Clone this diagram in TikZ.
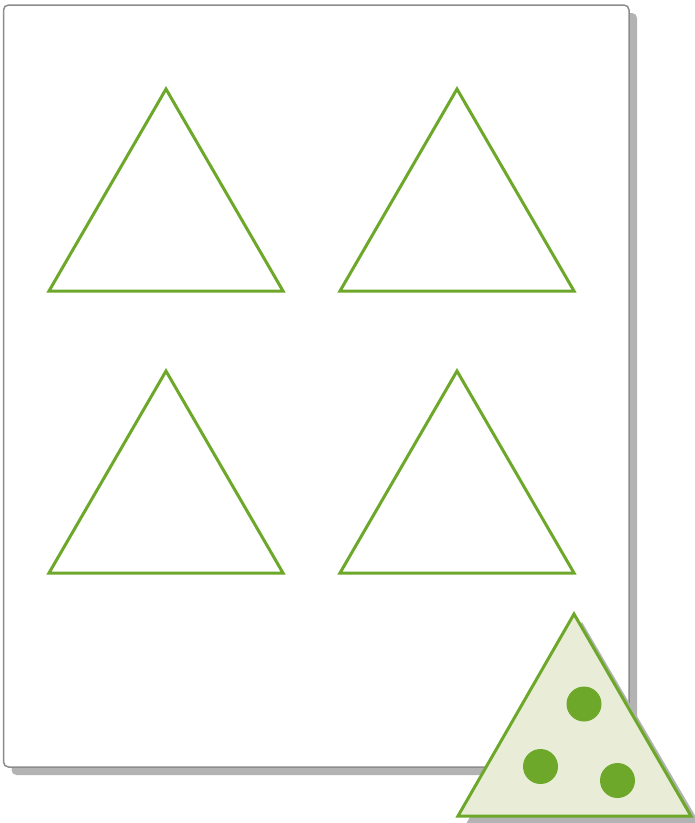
\documentclass[tikz,border=0pt]{standalone}
\begin{document}
\begin{tikzpicture}[x=1pt,y=-1pt,
  pageshadow/.style={fill=shadowgray,draw=none,rounded corners=5pt},
  pagebox/.style={fill=white,draw=pagegray,line width=1.5pt,rounded corners=5pt},
  tri/.style={draw=leafgreen,line width=3pt,line join=miter},
  dot/.style={fill=leafgreen,draw=none}]
\definecolor{leafgreen}{HTML}{6DA82B}
\definecolor{palegreen}{HTML}{E9EDD8}
\definecolor{pagegray}{HTML}{8C8C8C}
\definecolor{shadowgray}{HTML}{B3B3B3}
\useasboundingbox (0,0) rectangle (695,823);
\clip (0,0) rectangle (695,823);
% page
\fill[pageshadow] (11.5,13) rectangle (637,775);
\draw[pagebox] (3.5,5) rectangle (629,767);
% four outline triangles
\draw[tri] (166,89) -- (283,291) -- (49,291) -- cycle;
\draw[tri] (457,89) -- (574,291) -- (340,291) -- cycle;
\draw[tri] (166,371) -- (283,573) -- (49,573) -- cycle;
\draw[tri] (457,371) -- (574,573) -- (340,573) -- cycle;
% filled triangle with shadow
\fill[shadowgray] (582,622) -- (700,824) -- (466,824) -- cycle;
\draw[tri,fill=palegreen] (574,614) -- (691,816) -- (458,816) -- cycle;
\fill[dot] (584,704) circle (17.5);
\fill[dot] (540.5,766.5) circle (17.5);
\fill[dot] (617.5,780.5) circle (17.5);
\end{tikzpicture}
\end{document}
